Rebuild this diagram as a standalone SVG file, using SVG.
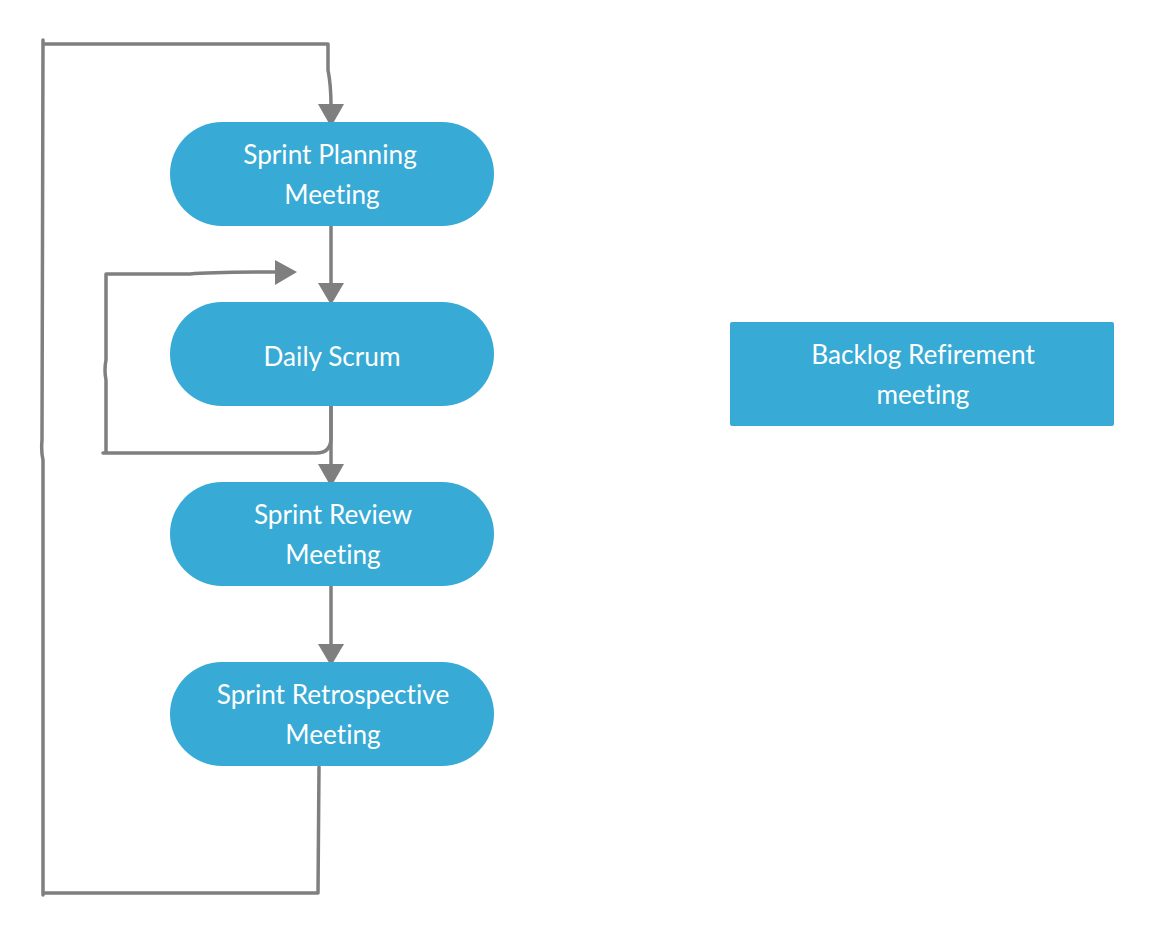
<svg xmlns="http://www.w3.org/2000/svg" width="1152" height="936" viewBox="0 0 1152 936">
<style>
.node{fill:#37aad6}
.lbl{font-family:Lato,"Open Sans","Liberation Sans",sans-serif;font-size:26.2px;fill:#ffffff;text-anchor:middle;font-variant-ligatures:none}
.edge{fill:none;stroke:#7f7f7f;stroke-width:3.5;stroke-linecap:round;stroke-linejoin:round}
.head{fill:#7f7f7f}
</style>
<rect width="1152" height="936" fill="#ffffff"/>
<g id="connectors">
  <path class="edge" d="M319,767 L318,893 L43,893 M43,895 L43,460 Q41,452 42,440 L43,40 M45,44 L200,44 L328,44 L328,70 Q331,85 331,106"/>
  <polygon class="head" points="318,104 344,104 331,127"/>
  <path class="edge" d="M331,226 L331,284"/>
  <polygon class="head" points="318,283 344,283 331,305"/>
  <path class="edge" d="M331,406 L331,465"/>
  <polygon class="head" points="318,464 344,464 331,487"/>
  <path class="edge" d="M331,406 L331,438 Q331,453 316,453 L103,453 M106,453 L106,380 Q104,370 106,360 L106,274 L190,274 Q210,272 276,272"/>
  <polygon class="head" points="275,260 275,285 297,272"/>
  <path class="edge" d="M331,586 L331,645"/>
  <polygon class="head" points="318,644 344,644 331,666"/>
</g>
<g id="sprint-planning">
  <rect class="node" x="170" y="122" width="324" height="104" rx="52"/>
  <text class="lbl" x="330" y="164">Sprint Planning</text>
  <text class="lbl" x="332" y="204">Meeting</text>
</g>
<g id="daily-scrum">
  <rect class="node" x="170" y="302" width="324" height="104" rx="52"/>
  <text class="lbl" x="332" y="366">Daily Scrum</text>
</g>
<g id="sprint-review">
  <rect class="node" x="170" y="482" width="324" height="104" rx="52"/>
  <text class="lbl" x="333" y="524">Sprint Review</text>
  <text class="lbl" x="333" y="564">Meeting</text>
</g>
<g id="sprint-retrospective">
  <rect class="node" x="170" y="662" width="324" height="104" rx="52"/>
  <text class="lbl" x="333" y="704">Sprint Retrospective</text>
  <text class="lbl" x="333" y="744">Meeting</text>
</g>
<g id="backlog-refinement">
  <rect class="node" x="730" y="322" width="384" height="104" rx="2"/>
  <text class="lbl" x="923" y="364">Backlog Refirement</text>
  <text class="lbl" x="923" y="404">meeting</text>
</g>
</svg>
